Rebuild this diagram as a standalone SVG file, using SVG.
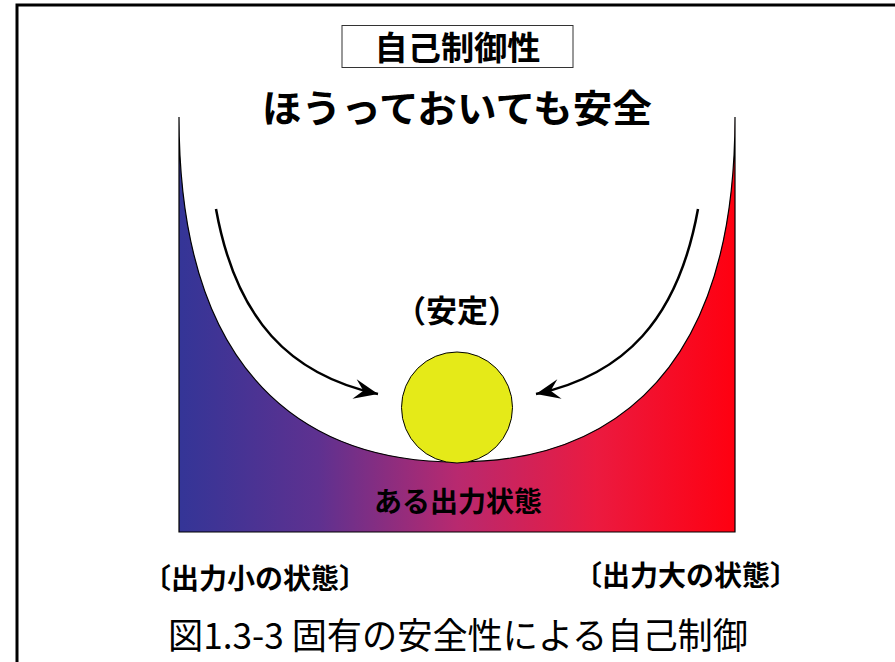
<svg xmlns="http://www.w3.org/2000/svg" width="895" height="662" viewBox="0 0 895 662">
  <defs>
    <linearGradient id="grad" x1="179" y1="0" x2="735" y2="0" gradientUnits="userSpaceOnUse">
      <stop offset="0" stop-color="#343597"/>
      <stop offset="0.25" stop-color="#5E3190"/>
      <stop offset="0.5" stop-color="#B8296F"/>
      <stop offset="0.75" stop-color="#EB1A40"/>
      <stop offset="1" stop-color="#FF0010"/>
    </linearGradient>
    <marker id="arrow" markerUnits="userSpaceOnUse" markerWidth="30" markerHeight="24" viewBox="-26 -12 28 24" refX="0" refY="0" orient="auto">
      <path d="M0,0 L-24,-10 L-15,0 L-24,10 Z" fill="#000"/>
    </marker>
    <style>
      .bold { font-family: "Noto Sans CJK JP", "Noto Sans", sans-serif; font-weight: bold; fill: #000; text-anchor: middle; }
      .reg { font-family: "Noto Sans CJK JP", "Noto Sans", sans-serif; font-weight: normal; fill: #000; text-anchor: middle; }
      .arrow { fill: none; stroke: #000; stroke-width: 2.5; marker-end: url(#arrow); }
    </style>
  </defs>

  <rect x="0" y="0" width="895" height="662" fill="#fff"/>

  <g id="frame">
    <path d="M17,700 L17,5 L900,5" fill="none" stroke="#000" stroke-width="3"/>
  </g>

  <g id="title">
    <rect x="342" y="25.5" width="231" height="42" fill="#fff" stroke="#333" stroke-width="1"/>
    <text class="bold" x="457.5" y="60" font-size="33" textLength="166" lengthAdjust="spacingAndGlyphs">自己制御性</text>
  </g>

  <g id="subtitle">
    <text class="bold" x="457" y="122" font-size="38" textLength="390" lengthAdjust="spacingAndGlyphs">ほうっておいても安全</text>
  </g>

  <g id="valley">
    <path d="M179,117 C179,400 330,462 457,462 C584,462 735,400 735,117 L735,532 L179,532 Z" fill="url(#grad)" stroke="#000" stroke-width="1.2"/>
    <text class="bold" x="458" y="512" font-size="28">ある出力状態</text>
  </g>

  <g id="stable-label">
    <text class="bold" x="457" y="322" font-size="31">（安定）</text>
  </g>

  <g id="ball">
    <circle cx="457" cy="407.5" r="55.5" fill="#E5EA18" stroke="#000" stroke-width="1"/>
  </g>

  <g id="connectors">
    <path class="arrow" d="M216,209 C236,320 290,375 378,394"/>
    <path class="arrow" d="M698,209 C678,320 624,375 536,394"/>
  </g>

  <g id="low-label">
    <text class="bold" x="255" y="589" font-size="28">〔出力小の状態〕</text>
  </g>

  <g id="high-label">
    <text class="bold" x="686" y="586" font-size="28">〔出力大の状態〕</text>
  </g>

  <g id="caption">
    <text class="reg" x="458" y="649" font-size="36" textLength="580" lengthAdjust="spacingAndGlyphs">図1.3-3 固有の安全性による自己制御</text>
  </g>
</svg>
